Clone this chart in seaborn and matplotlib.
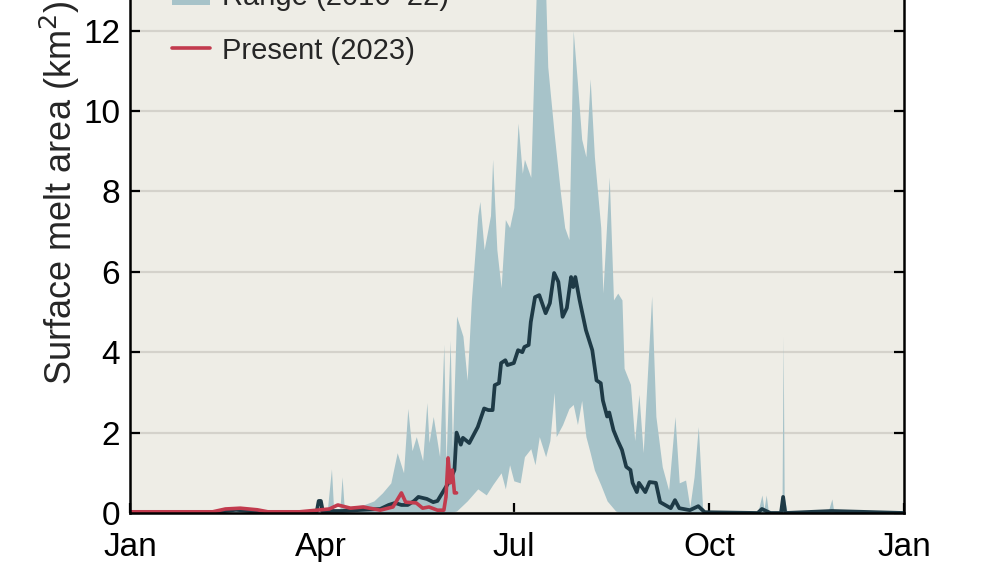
import numpy as np
import pandas as pd
import matplotlib
matplotlib.use("Agg")
import matplotlib.pyplot as plt
import seaborn as sns
from matplotlib.patches import Patch
from matplotlib.lines import Line2D

# --- data (day of year, km^2) ---
upper_days = [0, 40, 50, 60, 75, 88, 93, 95, 96, 99, 100, 101, 110, 115, 119, 123, 126, 129,
              131, 133, 135, 138, 140, 141, 143, 146, 148, 149, 151, 152, 154, 157, 159, 161,
              164, 165, 167, 170, 171, 173, 175, 177, 179, 181, 183, 185, 186, 189, 191, 192,
              195, 196, 197, 200, 203, 205, 207, 209, 211, 213, 215, 217, 219, 222, 223, 226,
              228, 230, 232, 233, 236, 238, 240, 242, 246, 248, 251, 254, 257, 259, 262, 264,
              266, 268, 270, 272, 296, 298, 299, 300, 301, 306, 307.5, 308, 308.5, 310, 329,
              331, 332, 365]
upper_vals = [0.03, 0.05, 0.12, 0.08, 0.04, 0.05, 0.05, 1.1, 0.1, 0.1, 0.9, 0.15, 0.2, 0.3,
              0.5, 0.75, 1.5, 1.0, 2.6, 1.55, 1.9, 1.3, 2.75, 1.75, 2.4, 1.4, 4.2, 1.2, 4.3,
              1.6, 4.9, 4.4, 3.3, 5.3, 7.4, 7.75, 6.55, 7.4, 8.8, 6.55, 5.6, 7.3, 7.1, 7.6,
              9.7, 8.45, 8.8, 8.35, 12.0, 13.6, 13.4, 13.0, 11.1, 9.45, 7.96, 7.1, 6.8, 12.0,
              10.7, 9.3, 8.86, 10.8, 8.86, 7.1, 5.47, 8.36, 5.3, 5.47, 5.3, 3.6, 3.2, 1.8,
              2.95, 1.5, 5.4, 2.4, 1.15, 0.57, 2.4, 0.75, 0.82, 0.15, 0.9, 2.15, 0.15, 0.0,
              0.0, 0.45, 0.1, 0.45, 0.05, 0.05, 0.4, 4.4, 0.4, 0.0, 0.0, 0.35, 0.0, 0.0]

lower_days = [0, 150, 154, 159, 164, 168, 171, 175, 177, 179, 181, 184, 186, 189, 191, 193,
              196, 198, 200, 201, 204, 207, 209, 211, 213, 215, 217, 219, 222, 225, 229, 232, 365]
lower_vals = [0.0, 0.0, 0.05, 0.3, 0.6, 0.45, 0.7, 1.0, 0.6, 1.2, 0.8, 0.75, 1.4, 1.6, 1.2,
              1.9, 1.4, 1.8, 3.0, 1.9, 2.2, 2.6, 2.7, 2.2, 2.8, 1.9, 1.5, 1.07, 0.7, 0.3, 0.05,
              0.0, 0.0]

median_days = [0, 40, 50, 60, 75, 88, 89, 90, 91, 95, 100, 110, 118, 122, 125, 128, 131, 134,
               136, 140, 143, 145, 149, 151, 153, 154, 156, 157, 160, 164, 167, 169, 171, 172,
               174, 175, 177, 178, 181, 183, 185, 186, 188, 189, 191, 193, 196, 198, 200, 202,
               204, 206, 208, 209, 210, 212, 215, 218, 220, 222, 223, 225, 226, 228, 230, 232,
               234, 236, 237, 239, 240, 243, 245, 248, 250, 255, 257, 259, 264, 268, 271, 296,
               298, 300, 302, 307, 308, 309, 331, 365]
median_vals = [0.0, 0.02, 0.08, 0.03, 0.02, 0.02, 0.3, 0.3, 0.02, 0.05, 0.05, 0.08, 0.1, 0.2,
               0.25, 0.2, 0.2, 0.3, 0.4, 0.35, 0.27, 0.3, 0.65, 0.82, 1.07, 2.0, 1.7, 1.87,
               1.74, 2.14, 2.6, 2.56, 2.56, 3.18, 3.23, 3.73, 3.8, 3.68, 3.73, 4.05, 4.0, 4.13,
               4.18, 4.75, 5.37, 5.42, 4.97, 5.22, 5.97, 5.75, 4.88, 5.1, 5.87, 5.62, 5.87,
               5.3, 4.55, 4.05, 3.3, 3.23, 2.8, 2.4, 2.5, 2.06, 1.8, 1.57, 1.15, 1.07, 0.75,
               0.52, 0.75, 0.52, 0.77, 0.75, 0.27, 0.12, 0.32, 0.12, 0.07, 0.17, 0.02, 0.0,
               0.1, 0.05, 0.0, 0.0, 0.4, 0.0, 0.05, 0.0]

present_days = [0, 39, 45, 52, 60, 65, 80, 94, 98, 104, 110, 118, 124, 128, 130, 135, 138,
                141, 145, 148, 149, 150, 151, 152, 153, 154]
present_vals = [0.03, 0.03, 0.1, 0.12, 0.08, 0.03, 0.03, 0.1, 0.2, 0.12, 0.15, 0.07, 0.15,
                0.5, 0.27, 0.25, 0.12, 0.15, 0.07, 0.07, 0.4, 1.37, 0.75, 1.07, 0.5, 0.5]

month_ticks = [0, 90, 181, 273, 365]
month_labels = ["Jan", "Apr", "Jul", "Oct", "Jan"]
range_label = "Range (2016–22)"
present_label = "Present (2023)"

band_color = "#a7c3c9"
median_color = "#1e3a46"
present_color = "#c23b4e"
bg_color = "#eeede6"
grid_color = "#d4d2cb"

sns.set_theme(style="ticks")
plt.rcParams["font.family"] = ["Liberation Sans", "DejaVu Sans"]

fig = plt.figure(figsize=(9.98, 5.62), dpi=100)
ax = fig.add_axes([130 / 998, 49 / 562, 774 / 998, 562.8 / 562])
ax.set_facecolor(bg_color)

# band: upper and lower on a common day grid of the listed days
band = pd.DataFrame({"day": sorted(set(upper_days) | set(lower_days))})
band["upper"] = np.interp(band["day"], upper_days, upper_vals)
band["lower"] = np.interp(band["day"], lower_days, lower_vals)
ax.fill_between(band["day"], band["lower"], band["upper"], color=band_color, lw=0, zorder=2)

median = pd.DataFrame({"day": median_days, "area": median_vals})
present = pd.DataFrame({"day": present_days, "area": present_vals})
sns.lineplot(data=median, x="day", y="area", ax=ax, color=median_color, lw=2.7, zorder=3)
sns.lineplot(data=present, x="day", y="area", ax=ax, color=present_color, lw=2.6, zorder=4)

ax.set_xlim(0, 365)
ax.set_ylim(0, 14)
ax.set_yticks(range(0, 15, 2))
ax.set_xticks(month_ticks)
ax.set_xticklabels(month_labels)
ax.yaxis.grid(True, color=grid_color, lw=1.6, zorder=1)
ax.set_axisbelow(True)
ax.tick_params(axis="both", direction="in", length=7, width=1.6, labelsize=24,
               colors="black", top=True, right=True)
ax.tick_params(axis="x", pad=14)
ax.tick_params(axis="y", pad=7)
for side in ax.spines.values():
    side.set_linewidth(1.8)
    side.set_color("black")
    side.set_zorder(5)
ax.set_xlabel("")
ax.set_ylabel("Surface melt area (km$^2$)", fontsize=26)
ax.yaxis.set_label_coords(-0.062, 0.57)

handles = [Patch(facecolor=band_color, edgecolor="none"),
           Line2D([0], [0], color=present_color, lw=2.6)]
fig.legend(handles, [range_label, present_label], loc="upper left",
           bbox_to_anchor=(172 / 998, 1 + 17 / 562), frameon=False, fontsize=21,
           handlelength=1.3, handletextpad=0.42, labelspacing=0.88,
           borderpad=0, borderaxespad=0)

fig.savefig("out.png", dpi=100)
